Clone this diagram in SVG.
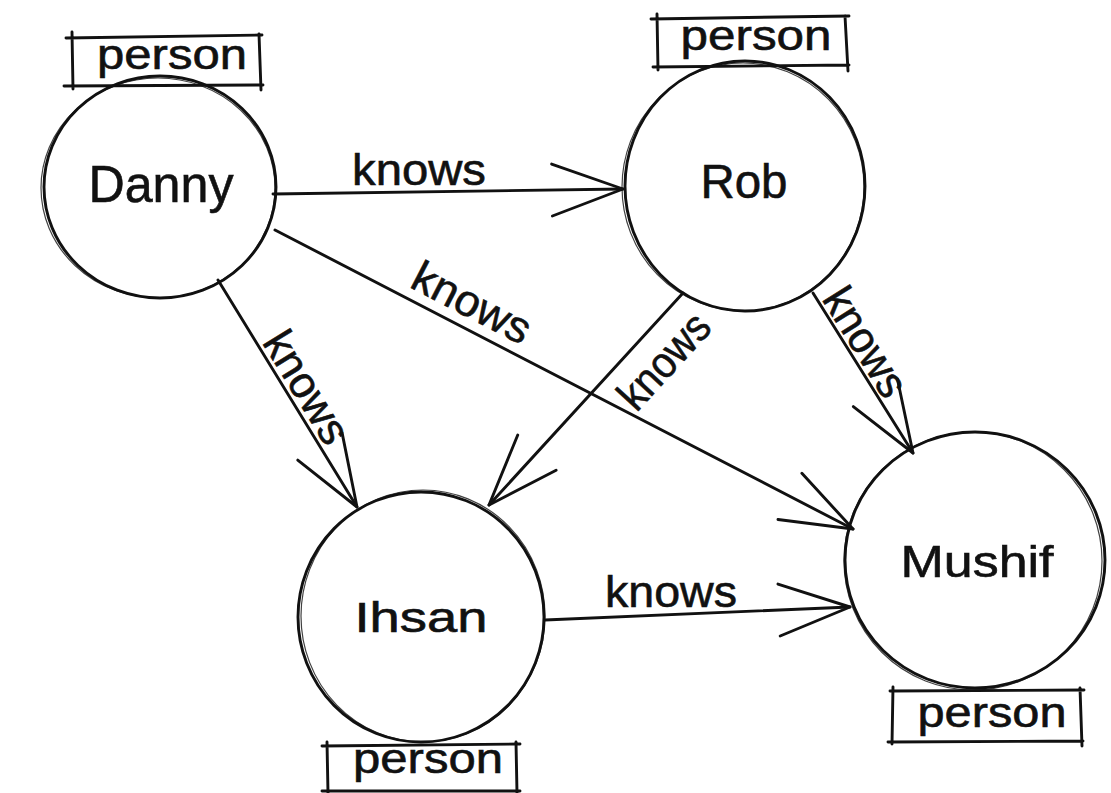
<svg xmlns="http://www.w3.org/2000/svg" width="1111" height="793" viewBox="0 0 1111 793">
  <defs>
    <style>
      .bg { fill: #ffffff; }
      .node { fill: none; stroke: #111111; stroke-width: 2.9; }
      .node2 { fill: none; stroke: #111111; stroke-width: 1.2; opacity: 0.8; }
      .box { fill: none; stroke: #111111; stroke-width: 2.9; stroke-linecap: round; }
      .edge { fill: none; stroke: #111111; stroke-width: 2.9; stroke-linecap: round; }
      .name { font-family: "Liberation Sans", Arial, sans-serif; fill: #111111; stroke: #111111; stroke-width: 0.6; text-anchor: middle; }
      .lbl { font-family: "Liberation Sans", Arial, sans-serif; font-size: 44px; fill: #111111; stroke: #111111; stroke-width: 0.6; text-anchor: middle; }
      .tag { font-family: "Liberation Sans", Arial, sans-serif; font-size: 42px; fill: #111111; stroke: #111111; stroke-width: 0.6; text-anchor: middle; }
    </style>
    <marker id="arrow" markerUnits="userSpaceOnUse" markerWidth="160" markerHeight="160" refX="0" refY="0" orient="auto" overflow="visible" viewBox="-80 -80 160 160">
      <path d="M-71,-26 L0,0 L-71,26" fill="none" stroke="#111111" stroke-width="2.9" stroke-linecap="round" stroke-linejoin="round"/>
    </marker>
  </defs>
  <rect class="bg" x="0" y="0" width="1111" height="793"/>

  <g id="connectors">
    <g id="e-danny-rob">
      <path class="edge" d="M273,194 L623,189" marker-end="url(#arrow)"/>
      <text class="lbl" x="419" y="185" textLength="134" lengthAdjust="spacingAndGlyphs">knows</text>
    </g>
    <g id="e-danny-mushif">
      <path class="edge" d="M275,230 L853,529" marker-end="url(#arrow)"/>
      <text class="lbl" transform="translate(465,316) rotate(27.4)" x="0" y="0" textLength="128" lengthAdjust="spacingAndGlyphs">knows</text>
    </g>
    <g id="e-danny-ihsan">
      <path class="edge" d="M218,280 L357,507" marker-end="url(#arrow)"/>
      <text class="lbl" transform="translate(294,395) rotate(58.4)" x="0" y="0" textLength="124" lengthAdjust="spacingAndGlyphs">knows</text>
    </g>
    <g id="e-rob-ihsan">
      <path class="edge" d="M683,293 L489,505" marker-end="url(#arrow)"/>
      <text class="lbl" transform="translate(675,371) rotate(-47.5)" x="0" y="0" textLength="114" lengthAdjust="spacingAndGlyphs">knows</text>
    </g>
    <g id="e-rob-mushif">
      <path class="edge" d="M813,293 L913,453" marker-end="url(#arrow)"/>
      <text class="lbl" transform="translate(853,350) rotate(58)" x="0" y="0" textLength="120" lengthAdjust="spacingAndGlyphs">knows</text>
    </g>
    <g id="e-ihsan-mushif">
      <path class="edge" d="M545,620 L850,607" marker-end="url(#arrow)"/>
      <text class="lbl" x="671" y="607" textLength="132" lengthAdjust="spacingAndGlyphs">knows</text>
    </g>
  </g>

  <g id="node-danny">
    <ellipse class="node" cx="160" cy="187" rx="116" ry="111"/>
    <ellipse class="node2" cx="158" cy="188" rx="117" ry="110"/>
    <text class="name" x="161" y="202" font-size="52" textLength="145" lengthAdjust="spacingAndGlyphs">Danny</text>
    <path class="box" d="M66,38 L262,35 M64,86 L263,85 M72,32 L73,89 M259,34 L261,90"/>
    <text class="tag" x="172" y="69" textLength="150" lengthAdjust="spacingAndGlyphs">person</text>
  </g>

  <g id="node-rob">
    <ellipse class="node" cx="745" cy="186" rx="120" ry="125"/>
    <ellipse class="node2" cx="743" cy="187" rx="121" ry="124"/>
    <text class="name" x="744" y="198" font-size="48" textLength="87" lengthAdjust="spacingAndGlyphs">Rob</text>
    <path class="box" d="M651,19 L849,16 M653,67 L849,65 M657,14 L658,70 M845,16 L848,71"/>
    <text class="tag" x="756" y="50" textLength="151" lengthAdjust="spacingAndGlyphs">person</text>
  </g>

  <g id="node-ihsan">
    <ellipse class="node" cx="421" cy="617" rx="123" ry="125"/>
    <ellipse class="node2" cx="423" cy="616" rx="122" ry="126"/>
    <text class="name" x="421" y="632" font-size="42" textLength="133" lengthAdjust="spacingAndGlyphs">Ihsan</text>
    <path class="box" d="M322,746 L520,744 M322,791 L520,791 M327,742 L328,793 M516,742 L517,793"/>
    <text class="tag" x="428" y="773" textLength="150" lengthAdjust="spacingAndGlyphs">person</text>
  </g>

  <g id="node-mushif">
    <ellipse class="node" cx="975" cy="560" rx="130" ry="128"/>
    <ellipse class="node2" cx="973" cy="561" rx="129" ry="129"/>
    <text class="name" x="977" y="577" font-size="45" textLength="153" lengthAdjust="spacingAndGlyphs">Mushif</text>
    <path class="box" d="M890,691 L1084,690 M888,742 L1083,741 M893,687 L892,744 M1080,688 L1082,746"/>
    <text class="tag" x="992" y="727" textLength="149" lengthAdjust="spacingAndGlyphs">person</text>
  </g>
</svg>
